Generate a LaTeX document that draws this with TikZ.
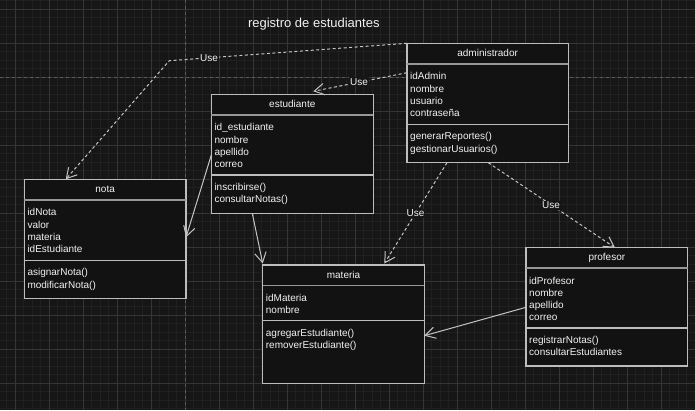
\documentclass[tikz,border=0pt]{standalone}
\usepackage{fontspec}
\setmainfont{Liberation Sans}
\usetikzlibrary{arrows.meta}
\definecolor{bgc}{HTML}{161616}
\definecolor{boxfill}{HTML}{121212}
\definecolor{minorc}{HTML}{202020}
\definecolor{majorc}{HTML}{353535}
\definecolor{breakc}{HTML}{5A5A5A}
\definecolor{linec}{HTML}{C4C4C4}
\definecolor{borderc}{HTML}{BDBDBD}
\definecolor{txtc}{HTML}{F2F2F2}
\tikzset{
  classbox/.style={draw=borderc, fill=boxfill, line width=1.2pt, inner sep=0pt, outer sep=0pt, rectangle},
  headsep/.style={draw=borderc!80!black, line width=1.8pt},
  attrsep/.style={draw=borderc, line width=1.1pt},
  txt/.style={text=txtc, font=\fontsize{10pt}{12pt}\selectfont, inner sep=0pt},
  uselabel/.style={text=txtc, font=\fontsize{10pt}{12pt}\selectfont, fill=bgc, inner sep=1pt},
  dep/.style={draw=linec, line width=1pt, dash pattern=on 3pt off 2.5pt, -{Straight Barb[length=10pt,width=11.5pt]}},
  assoc/.style={draw=linec, line width=1pt, -{Straight Barb[length=10pt,width=11.5pt]}},
}
\newcommand{\umlclass}[9]{%
  \node[classbox, anchor=north west, minimum width={(#4-#2)*1pt}, minimum height={(#5-#3)*1pt}] (#1) at (#2,#3) {};
  \draw[headsep] ([yshift=-20.5pt]#1.north west) -- ([yshift=-20.5pt]#1.north east);
  \draw[attrsep] ([yshift={-(#6-#3)*1pt}]#1.north west) -- ([yshift={-(#6-#3)*1pt}]#1.north east);
  \node[txt, anchor=base] (#1-t) at ({(#2+#4)/2}, {#3+13}) {#7};
  \foreach \s [count=\i from 0] in {#8} \node[txt, anchor=base west] (#1-a\i) at ({#2+3}, {#3+36.5+12.2*\i}) {\s};
  \foreach \s [count=\i from 0] in {#9} \node[txt, anchor=base west] (#1-m\i) at ({#2+3}, {#6+15.5+12.2*\i}) {\s};
}
\begin{document}
\begin{tikzpicture}[x=1pt, y=-1pt]
\useasboundingbox (0,0) rectangle (695,410);
\fill[bgc] (0,0) rectangle (695,410);
\begin{scope}
\clip (0,0) rectangle (695,410);
\foreach \k in {0,...,82} \draw[minorc, line width=0.8pt] ({-1.7+8.5*\k},0) -- ({-1.7+8.5*\k},410);
\foreach \k in {0,...,48} \draw[minorc, line width=0.8pt] (0,{0.8+8.5*\k}) -- (695,{0.8+8.5*\k});
\foreach \k in {0,...,20} \draw[majorc, line width=1pt] ({15.3+34*\k},0) -- ({15.3+34*\k},410);
\foreach \k in {0,...,11} \draw[majorc, line width=1pt] (0,{9.3+34*\k}) -- (695,{9.3+34*\k});
\draw[breakc, line width=1pt, dash pattern=on 3pt off 3pt] (185.3,0) -- (185.3,410);
\draw[breakc, line width=1pt, dash pattern=on 3pt off 3pt] (0,77.3) -- (695,77.3);
\end{scope}

\node[text=txtc, font=\fontsize{13pt}{15pt}\selectfont, anchor=base, inner sep=0pt] (title) at (313.8,27) {registro de estudiantes};

\umlclass{adm}{407}{43.3}{568.3}{162.7}{124.3}{administrador}{idAdmin,nombre,usuario,contraseña}{generarReportes(),gestionarUsuarios()}
\umlclass{est}{211.3}{94.3}{373.3}{213.3}{175}{estudiante}{id\_estudiante,nombre,apellido,correo}{inscribirse(),consultarNotas()}
\umlclass{nota}{24.3}{179.3}{186}{298.3}{260.3}{nota}{idNota,valor,materia,idEstudiante}{asignarNota(),modificarNota()}
\umlclass{mat}{262.7}{265}{424.3}{383.3}{320.7}{materia}{idMateria,nombre}{agregarEstudiante(),removerEstudiante()}
\umlclass{prof}{526}{247.7}{687.7}{366}{328}{profesor}{idProfesor,nombre,apellido,correo}{registrarNotas(),consultarEstudiantes}

% dependencies (Use)
\coordinate (bend) at (169.3,60.7);
\draw[dep] (adm.north west) -- (bend) -- ([xshift=41.4pt]nota.north west);
\node[uselabel] (u1) at (209,58.2) {Use};
\draw[dep] ([yshift=-29.4pt]adm.north west) -- ([xshift=102pt,yshift=3pt]est.north west);
\node[uselabel] (u2) at (359,81.8) {Use};
\draw[dep] ([xshift=40pt]adm.south west) -- ([xshift=121.6pt,yshift=1.5pt]mat.north west);
\node[uselabel] (u3) at (415.6,213.3) {Use};
\draw[dep] ([xshift=81.3pt]adm.south west) -- ([xshift=89pt]prof.north west);
\node[uselabel] (u4) at (551,205.4) {Use};

% associations
\draw[assoc] ([yshift=-60.7pt]est.north west) -- ([yshift=-58pt]nota.north east);
\draw[assoc] ([xshift=41pt]est.south west) -- ([yshift=1.5pt]mat.north west);
\draw[assoc] ([yshift=-59.6pt]prof.north west) -- ([yshift=-70.7pt]mat.north east);
\end{tikzpicture}
\end{document}
